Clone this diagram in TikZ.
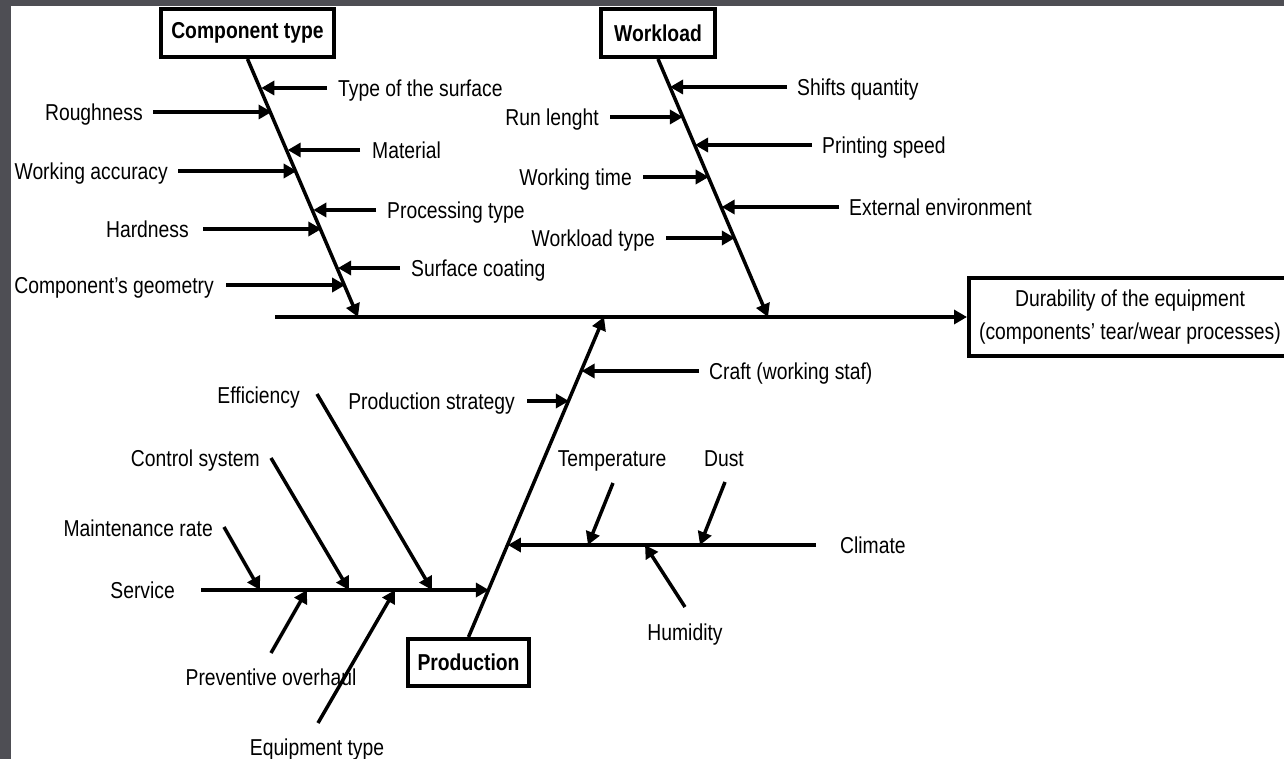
\documentclass[tikz,border=0pt]{standalone}
\usepackage{fontspec}
\setmainfont{Liberation Sans}[FakeStretch=0.84]
\usetikzlibrary{arrows.meta,calc}
\definecolor{framegray}{RGB}{78,78,84}
\begin{document}
\begin{tikzpicture}[x=1pt,y=-1pt,
  lbl/.style={font=\fontsize{23}{27}\selectfont, inner sep=0pt, text height=16.5pt, text depth=0pt},
  hd/.style={draw, line width=4pt, font=\fontsize{23}{27}\selectfont\bfseries, inner sep=0pt, minimum height=48pt},
  arr/.style={line width=3.5pt, -{Triangle[length=13pt,width=14pt]}},
  bone/.style={line width=3.5pt}]
\clip (0,0) rectangle (1284,759);
\fill[framegray] (0,0) rectangle (1284,759);
\fill[white] (11,6) rectangle (1284,759);

% heads
\node[hd, minimum width=173pt] (ct) at (247.5,33) {Component type};
\node[hd, minimum width=114pt] (wl) at (658,33) {Workload};
\node[hd, minimum width=121pt, minimum height=47pt] (prod) at (468.5,662.5) {Production};
\node[hd, minimum width=322pt, minimum height=78pt, align=center, font=\fontsize{23}{33}\selectfont] (dur) at (1130,317) {Durability of the equipment\\(components’ tear/wear processes)};

% main line and spines
\coordinate (mstart) at (275,317);
\coordinate (cte) at (358,317);
\coordinate (wle) at (768,317);
\coordinate (pre) at (604,317);
\draw[arr] (mstart) -- (dur.west);
\draw[arr] (ct.south) -- (cte);
\draw[arr] (wl.south) -- (wle);
\draw[arr] (prod.north) -- (pre);

% component type causes
\coordinate (c1) at (261.3,88);
\coordinate (c2) at (271.6,112);
\coordinate (c3) at (287.7,150);
\coordinate (c4) at (296.7,171);
\coordinate (c5) at (313.3,210);
\coordinate (c6) at (321.4,229);
\coordinate (c7) at (338.0,268);
\coordinate (c8) at (345.2,285);
\node[lbl, anchor=west] (tsurf) at (338,88) {Type of the surface};
\node[lbl, anchor=east] (rough) at (143,112) {Roughness};
\node[lbl, anchor=west] (mat) at (372,150) {Material};
\node[lbl, anchor=east] (wacc) at (168,171) {Working accuracy};
\node[lbl, anchor=west] (proc) at (387,210) {Processing type};
\node[lbl, anchor=east] (hard) at (189,229) {Hardness};
\node[lbl, anchor=west] (surf) at (411,268) {Surface coating};
\node[lbl, anchor=east] (cgeo) at (214,285) {Component’s geometry};
\draw[arr] ([xshift=-11pt]tsurf.west) -- (c1);
\draw[arr] ([xshift=10pt]rough.east) -- (c2);
\draw[arr] ([xshift=-12pt]mat.west) -- (c3);
\draw[arr] ([xshift=10pt]wacc.east) -- (c4);
\draw[arr] ([xshift=-11pt]proc.west) -- (c5);
\draw[arr] ([xshift=14pt]hard.east) -- (c6);
\draw[arr] ([xshift=-11pt]surf.west) -- (c7);
\draw[arr] ([xshift=12pt]cgeo.east) -- (c8);

% workload causes
\coordinate (w1) at (670.0,87);
\coordinate (w2) at (682.9,117);
\coordinate (w3) at (695.0,145);
\coordinate (w4) at (708.7,177);
\coordinate (w5) at (721.6,207);
\coordinate (w6) at (734.9,238);
\node[lbl, anchor=west] (shifts) at (797,87) {Shifts quantity};
\node[lbl, anchor=east] (run) at (599,117) {Run lenght};
\node[lbl, anchor=west] (print) at (822,145) {Printing speed};
\node[lbl, anchor=east] (wtime) at (632,177) {Working time};
\node[lbl, anchor=west] (ext) at (849,207) {External environment};
\node[lbl, anchor=east] (wtype) at (655,238) {Workload type};
\draw[arr] ([xshift=-10pt]shifts.west) -- (w1);
\draw[arr] ([xshift=11pt]run.east) -- (w2);
\draw[arr] ([xshift=-10pt]print.west) -- (w3);
\draw[arr] ([xshift=11pt]wtime.east) -- (w4);
\draw[arr] ([xshift=-10pt]ext.west) -- (w5);
\draw[arr] ([xshift=11pt]wtype.east) -- (w6);

% production causes
\coordinate (p1) at (581.6,371);
\coordinate (p2) at (568.9,401);
\coordinate (p3) at (507.9,545);
\coordinate (p4) at (488.9,590);
\node[lbl, anchor=west] (craft) at (709,371) {Craft (working staf)};
\node[lbl, anchor=east] (strat) at (515,401) {Production strategy};
\draw[arr] ([xshift=-10pt]craft.west) -- (p1);
\draw[arr] ([xshift=12pt]strat.east) -- (p2);

% climate
\node[lbl, anchor=west] (clim) at (840,545) {Climate};
\coordinate (clims) at (816,545);
\draw[arr] (clims) -- (p3);
\node[lbl] (temp) at (612,458) {Temperature};
\node[lbl] (dust) at (724,458) {Dust};
\node[lbl] (hum) at (685,632) {Humidity};
\coordinate (tempa) at (613,483);
\coordinate (tempb) at (588,545);
\coordinate (dusta) at (725,482);
\coordinate (dustb) at (700,545);
\coordinate (huma) at (685,607);
\coordinate (humb) at (645,545);
\draw[arr] (tempa) -- (tempb);
\draw[arr] (dusta) -- (dustb);
\draw[arr] (huma) -- (humb);

% service
\node[lbl, anchor=east] (serv) at (175,590) {Service};
\coordinate (servs) at (201,590);
\draw[arr] (servs) -- (p4);
\node[lbl, anchor=east] (maint) at (213,528) {Maintenance rate};
\node[lbl, anchor=east] (ctrl) at (260,458) {Control system};
\node[lbl, anchor=east] (eff) at (300,395) {Efficiency};
\node[lbl] (prev) at (271,677) {Preventive overhaul};
\node[lbl] (equip) at (317,747) {Equipment type};
\coordinate (ma) at (224,527);
\coordinate (mb) at (260,590);
\coordinate (ca) at (271,458);
\coordinate (cb) at (349,590);
\coordinate (ea) at (317,394);
\coordinate (eb) at (432,590);
\coordinate (pva) at (271,653);
\coordinate (pvb) at (307,590);
\coordinate (eqa) at (318,723);
\coordinate (eqb) at (395,590);
\draw[arr] (ma) -- (mb);
\draw[arr] (ca) -- (cb);
\draw[arr] (ea) -- (eb);
\draw[arr] (pva) -- (pvb);
\draw[arr] (eqa) -- (eqb);
\end{tikzpicture}
\end{document}
